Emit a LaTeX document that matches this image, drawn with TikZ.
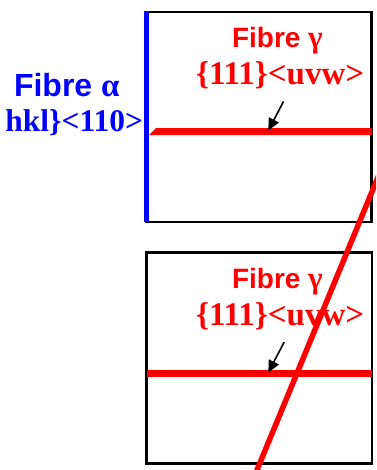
\documentclass[tikz,border=0pt]{standalone}
\usepackage{fontspec}
\usetikzlibrary{arrows.meta}
\newfontfamily\sansf{Liberation Sans}
\newfontfamily\seriff{Liberation Serif}
\definecolor{fred}{RGB}{255,0,0}
\definecolor{fblue}{RGB}{0,0,255}
\newcommand{\grkfont}[1]{\seriff\bfseries\fontsize{#1}{#1}\selectfont}
\begin{document}
\begin{tikzpicture}[x=1pt,y=-1pt,
  frame/.style={draw=black,line width=2.5pt},
  blueedge/.style={draw=fblue,line width=5pt},
  redband/.style={fill=fred},
  diag/.style={draw=fred,line width=5.5pt},
  pointer/.style={draw=black,line width=1.6pt,-{Triangle[length=12pt,width=11pt]}},
  lbl/.style={inner sep=0pt,outer sep=0pt},
  gtitle/.style={lbl,text=fred,anchor=base west,font=\sansf\bfseries\fontsize{28}{30}\selectfont},
  gmiller/.style={lbl,text=fred,anchor=base west,font=\seriff\bfseries\fontsize{33}{34}\selectfont},
  atitle/.style={lbl,text=fblue,anchor=base west,font=\sansf\bfseries\fontsize{32}{34}\selectfont},
  amiller/.style={lbl,text=fblue,anchor=base east,font=\seriff\bfseries\fontsize{31.5}{34}\selectfont}
]
\useasboundingbox (0,0) rectangle (376,470);
\clip (0,0) rectangle (376,470);
% top box
\coordinate (b1nw) at (146,12);
\coordinate (b1se) at (371.5,222);
\draw[frame] (b1nw) rectangle (b1se);
\coordinate (blt) at (146,11);
\coordinate (blb) at (146,222);
\draw[blueedge] (blt) -- (blb);
\fill[redband] (149,135.2) -- (156,128.2) -- (372,128.2) -- (372,135.2) -- cycle;
% bottom box
\coordinate (b2nw) at (146.7,252.5);
\coordinate (b2se) at (372,463.7);
\draw[frame] (b2nw) rectangle (b2se);
\fill[redband] (147,370) rectangle (372,377);
% labels
\node[gtitle] (g1) at (232,47.7) {Fibre {\grkfont{31}γ}};
\node[gmiller] (m1) at (196,85) {\{111\}<uvw>};
\node[gtitle] (g2) at (232,288.3) {Fibre {\grkfont{31}γ}};
\node[gmiller] (m2) at (196,325) {\{111\}<uvw>};
\node[atitle] (a1) at (14,96.7) {Fibre {\grkfont{33}α}};
\node[amiller] (a2) at (143,131.7) {hkl\}<110>};
% pointers
\coordinate (p1s) at (283.5,101.5);
\coordinate (p1e) at (268.3,130.5);
\draw[pointer] (p1s) -- (p1e);
\coordinate (p2s) at (284.2,342);
\coordinate (p2e) at (268.3,372.5);
\draw[pointer] (p2s) -- (p2e);
% diagonal fibre
\coordinate (d1) at (379.8,172.8);
\coordinate (d2) at (255.1,474.6);
\draw[diag] (d1) -- (d2);
\end{tikzpicture}
\end{document}
